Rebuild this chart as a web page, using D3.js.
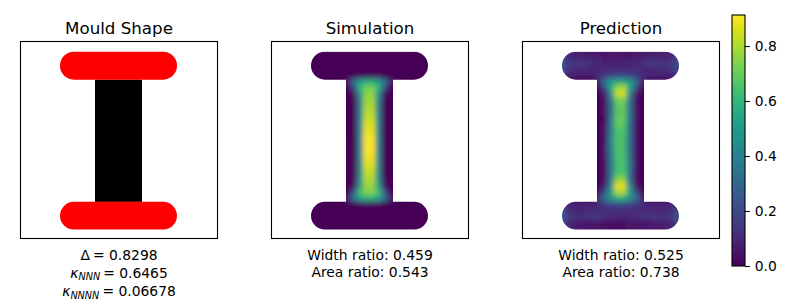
<!DOCTYPE html>
<html>
<head>
<meta charset="utf-8">
<script src="https://cdn.jsdelivr.net/npm/d3@7"></script>
<style>
  html, body { margin: 0; background: #fff; }
  text { font-family: "DejaVu Sans", sans-serif; fill: #000; }
</style>
</head>
<body>
<div id="chart"></div>
<script>
const titles = ['Mould Shape', 'Simulation', 'Prediction'];
const ratioLabels = [null, ['Width ratio: 0.459', 'Area ratio: 0.543'], ['Width ratio: 0.525', 'Area ratio: 0.738']];
const colorTicks = [0, 0.2, 0.4, 0.6, 0.8];
const colorMax = 0.9127;

// mould outline, in image cells (0-64)
const barLeft = 12.83, barRight = 50.84, stemLeft = 24.2, stemRight = 39.47;
const topBar = [3.3, 12.4], bottomBar = [52.1, 61.1];
const barCorner = 4.5;

// heat values x100 on a 2-cell grid
const gridStartX = 11.75, gridStartY = 2, gridStep = 2;

const simulationRows = [
  [0,0,0,0,0,0,0,0,0,0,0,0,0,0,0,0,0,0,0,0],
  [0,0,0,0,0,0,0,0,0,0,0,0,0,0,0,0,0,0,0,0],
  [0,0,0,0,0,0,0,0,0,0,0,0,0,0,0,0,0,0,0,0],
  [0,0,0,0,0,0,0,0,0,0,0,0,0,0,0,0,0,0,0,0],
  [0,0,0,0,0,0,0,0,2,3,3,2,0,0,0,0,0,0,0,0],
  [0,0,0,0,0,0,8,34,50,56,56,50,34,8,0,0,0,0,0,0],
  [0,0,0,0,0,0,1,22,60,72,72,60,22,1,0,0,0,0,0,0],
  [0,0,0,0,0,0,0,5,46,76,76,46,5,0,0,0,0,0,0,0],
  [0,0,0,0,0,0,0,2,41,78,78,41,2,0,0,0,0,0,0,0],
  [0,0,0,0,0,0,0,1,40,80,80,40,1,0,0,0,0,0,0,0],
  [0,0,0,0,0,0,0,1,40,82,82,40,1,0,0,0,0,0,0,0],
  [0,0,0,0,0,0,0,1,40,84,84,40,1,0,0,0,0,0,0,0],
  [0,0,0,0,0,0,0,1,40,86,86,40,1,0,0,0,0,0,0,0],
  [0,0,0,0,0,0,0,1,41,88,88,41,1,0,0,0,0,0,0,0],
  [0,0,0,0,0,0,0,1,41,90,90,41,1,0,0,0,0,0,0,0],
  [0,0,0,0,0,0,0,1,42,91,91,42,1,0,0,0,0,0,0,0],
  [0,0,0,0,0,0,0,1,42,91,91,42,1,0,0,0,0,0,0,0],
  [0,0,0,0,0,0,0,1,42,90,90,42,1,0,0,0,0,0,0,0],
  [0,0,0,0,0,0,0,1,42,88,88,42,1,0,0,0,0,0,0,0],
  [0,0,0,0,0,0,0,1,43,85,85,43,1,0,0,0,0,0,0,0],
  [0,0,0,0,0,0,0,1,43,82,82,43,1,0,0,0,0,0,0,0],
  [0,0,0,0,0,0,0,2,45,80,80,45,2,0,0,0,0,0,0,0],
  [0,0,0,0,0,0,0,6,52,78,78,52,6,0,0,0,0,0,0,0],
  [0,0,0,0,0,0,1,24,64,74,74,64,24,1,0,0,0,0,0,0],
  [0,0,0,0,0,0,9,36,52,58,58,52,36,9,0,0,0,0,0,0],
  [0,0,0,0,0,0,0,0,2,4,4,2,0,0,0,0,0,0,0,0],
  [0,0,0,0,0,0,0,0,0,0,0,0,0,0,0,0,0,0,0,0],
  [0,0,0,0,0,0,0,0,0,0,0,0,0,0,0,0,0,0,0,0],
  [0,0,0,0,0,0,0,0,0,0,0,0,0,0,0,0,0,0,0,0],
  [0,0,0,0,0,0,0,0,0,0,0,0,0,0,0,0,0,0,0,0]
];

const predictionRows = [
  [12,10,8,7,6,6,6,5,6,7,6,5,6,7,7,6,7,8,10,12],
  [20,11,9,8,7,7,7,6,7,6,6,6,7,7,8,8,8,9,11,18],
  [25,16,14,15,14,12,10,9,9,8,9,10,10,12,15,16,14,14,16,24],
  [23,14,11,11,10,9,10,11,11,11,11,11,12,11,10,12,12,12,14,22],
  [14,10,8,7,7,9,11,14,18,20,20,18,14,11,10,8,8,8,10,13],
  [0,0,0,0,0,0,10,36,50,54,54,50,36,10,0,0,0,0,0,0],
  [0,0,0,0,0,0,3,24,54,76,80,56,24,3,0,0,0,0,0,0],
  [0,0,0,0,0,0,0,9,42,84,86,44,9,0,0,0,0,0,0,0],
  [0,0,0,0,0,0,0,6,36,72,74,38,6,0,0,0,0,0,0,0],
  [0,0,0,0,0,0,0,5,34,68,70,36,6,0,0,0,0,0,0,0],
  [0,0,0,0,0,0,0,5,34,68,70,38,7,0,0,0,0,0,0,0],
  [0,0,0,0,0,0,0,4,34,70,70,38,6,0,0,0,0,0,0,0],
  [0,0,0,0,0,0,0,5,36,70,68,36,5,0,0,0,0,0,0,0],
  [0,0,0,0,0,0,0,6,38,66,66,34,5,0,0,0,0,0,0,0],
  [0,0,0,0,0,0,0,6,40,66,65,34,5,0,0,0,0,0,0,0],
  [0,0,0,0,0,0,0,6,40,66,65,34,5,0,0,0,0,0,0,0],
  [0,0,0,0,0,0,0,7,40,66,65,36,6,0,0,0,0,0,0,0],
  [0,0,0,0,0,0,0,7,38,65,65,36,6,0,0,0,0,0,0,0],
  [0,0,0,0,0,0,0,6,36,65,66,38,6,0,0,0,0,0,0,0],
  [0,0,0,0,0,0,0,6,34,64,66,38,6,0,0,0,0,0,0,0],
  [0,0,0,0,0,0,0,5,34,66,68,36,5,0,0,0,0,0,0,0],
  [0,0,0,0,0,0,0,6,38,76,78,38,5,0,0,0,0,0,0,0],
  [0,0,0,0,0,0,1,10,44,88,88,46,8,1,0,0,0,0,0,0],
  [0,0,0,0,0,0,4,26,52,80,80,54,24,3,0,0,0,0,0,0],
  [0,0,0,0,0,0,12,36,48,56,56,46,36,10,0,0,0,0,0,0],
  [15,11,9,8,8,9,12,15,18,20,20,18,14,12,9,9,9,9,11,14],
  [23,13,10,9,10,11,10,12,11,12,11,12,10,11,10,10,10,11,13,21],
  [26,16,14,13,14,15,14,12,11,10,11,11,12,13,14,15,14,14,16,24],
  [21,10,7,6,6,5,5,4,4,4,4,5,5,6,6,7,7,8,10,19],
  [13,10,8,7,6,5,5,5,4,4,4,5,6,6,7,7,7,8,10,13]
];

const width = 800, height = 300;
const panelLefts = [20.5, 271.5, 522.5];
const panelTop = 41.5, panelSize = 197;
const barX = 732, barTop = 15, barBottom = 266, barWidth = 13;

const svg = d3.select('#chart')
  .append('svg')
  .attr('width', width)
  .attr('height', height)
  .style('display', 'block');

const imageScale = d3.scaleLinear().domain([0, 64]).range([0, panelSize]);
const color = d3.scaleSequential(d3.interpolateViridis).domain([0, colorMax]);

const defs = svg.append('defs');

defs.append('filter')
  .attr('id', 'smooth')
  .attr('x', 0).attr('y', 0).attr('width', 1).attr('height', 1)
  .append('feGaussianBlur')
  .attr('stdDeviation', 2.4);

function mouldShape(parent, barFill, stemFill) {
  const rects = [
    { x0: stemLeft, x1: stemRight, y0: topBar[1], y1: bottomBar[0], r: 0, fill: stemFill },
    { x0: barLeft, x1: barRight, y0: topBar[0], y1: topBar[1], r: barCorner, fill: barFill },
    { x0: barLeft, x1: barRight, y0: bottomBar[0], y1: bottomBar[1], r: barCorner, fill: barFill }
  ];
  parent.selectAll('rect')
    .data(rects)
    .enter()
    .append('rect')
    .attr('x', d => imageScale(d.x0))
    .attr('y', d => imageScale(d.y0))
    .attr('width', d => imageScale(d.x1) - imageScale(d.x0))
    .attr('height', d => imageScale(d.y1) - imageScale(d.y0))
    .attr('rx', d => imageScale(d.r))
    .attr('fill', d => d.fill);
}

mouldShape(defs.append('clipPath').attr('id', 'mould'), '#000', '#000');

const panels = svg.selectAll('g.panel')
  .data(titles)
  .enter()
  .append('g')
  .attr('class', 'panel')
  .attr('transform', (d, i) => `translate(${panelLefts[i]}, ${panelTop})`);

mouldShape(panels.filter((d, i) => i === 0).append('g'), '#f00', '#000');

[simulationRows, predictionRows].forEach((rows, i) => {
  const cells = rows.flatMap((row, r) => row.map((v, c) => ({ r, c, v: v / 100 })));
  const heat = panels.filter((d, j) => j === i + 1)
    .append('g')
    .attr('clip-path', 'url(#mould)')
    .append('g')
    .attr('filter', 'url(#smooth)');

  // a backing rect keeps the blur from fading out at the grid border
  heat.append('rect')
    .attr('width', panelSize)
    .attr('height', panelSize)
    .attr('fill', color(0));

  heat.selectAll('rect.cell')
    .data(cells)
    .enter()
    .append('rect')
    .attr('class', 'cell')
    .attr('x', d => imageScale(gridStartX + d.c * gridStep))
    .attr('y', d => imageScale(gridStartY + d.r * gridStep))
    .attr('width', imageScale(gridStep) + 0.5)
    .attr('height', imageScale(gridStep) + 0.5)
    .attr('fill', d => color(d.v));
});

panels.append('rect')
  .attr('width', panelSize)
  .attr('height', panelSize)
  .attr('fill', 'none')
  .attr('stroke', '#000')
  .attr('stroke-width', 1.1);

panels.append('text')
  .attr('x', panelSize / 2)
  .attr('y', -8)
  .attr('text-anchor', 'middle')
  .style('font-size', '16.67px')
  .text(d => d);

panels.each(function(d, i) {
  if (!ratioLabels[i]) return;
  d3.select(this).selectAll('text.ratio')
    .data(ratioLabels[i])
    .enter()
    .append('text')
    .attr('class', 'ratio')
    .attr('x', panelSize / 2)
    .attr('y', (t, k) => 218.5 + k * 17)
    .attr('text-anchor', 'middle')
    .style('font-size', '13.89px')
    .text(t => t);
});

// formula lines under the mould panel
const formulas = [
  { sym: 'Δ', sub: '', val: '0.8298', line: 218.5 },
  { sym: 'κ', sub: 'NNN', val: '0.6465', line: 236 },
  { sym: 'κ', sub: 'NNNN', val: '0.06678', line: 254.5 }
];

const formulaText = panels.filter((d, i) => i === 0)
  .selectAll('text.formula')
  .data(formulas)
  .enter()
  .append('text')
  .attr('class', 'formula')
  .attr('x', panelSize / 2)
  .attr('y', d => d.line)
  .attr('text-anchor', 'middle')
  .style('font-size', '13.89px');

formulaText.append('tspan')
  .style('font-style', d => d.sub ? 'italic' : 'normal')
  .text(d => d.sym);
formulaText.append('tspan')
  .attr('dy', 2.5)
  .style('font-size', '9.7px')
  .style('font-style', 'italic')
  .text(d => d.sub);
formulaText.append('tspan')
  .attr('dy', d => d.sub ? -2.5 : 0)
  .attr('dx', 3)
  .text(d => `= ${d.val}`);

// colorbar
const barScale = d3.scaleLinear().domain([0, colorMax]).range([barBottom, barTop]);
const gradient = defs.append('linearGradient')
  .attr('id', 'viridis')
  .attr('x1', 0).attr('y1', 1).attr('x2', 0).attr('y2', 0);

gradient.selectAll('stop')
  .data(d3.range(0, 1.001, 0.05))
  .enter()
  .append('stop')
  .attr('offset', d => d)
  .attr('stop-color', d => d3.interpolateViridis(d));

svg.append('rect')
  .attr('x', barX)
  .attr('y', barTop)
  .attr('width', barWidth)
  .attr('height', barBottom - barTop)
  .attr('fill', 'url(#viridis)')
  .attr('stroke', '#000')
  .attr('stroke-width', 1.1);

const colorAxis = d3.axisRight(barScale)
  .tickValues(colorTicks)
  .tickFormat(d3.format('.1f'))
  .tickSize(4.9)
  .tickPadding(4.9);

const axisG = svg.append('g')
  .attr('transform', `translate(${barX + barWidth}, 0)`)
  .call(colorAxis);

axisG.select('.domain').remove();
axisG.selectAll('line').attr('stroke-width', 1.1);
axisG.selectAll('text')
  .style('font-family', '"DejaVu Sans", sans-serif')
  .style('font-size', '13.89px');
</script>
</body>
</html>
